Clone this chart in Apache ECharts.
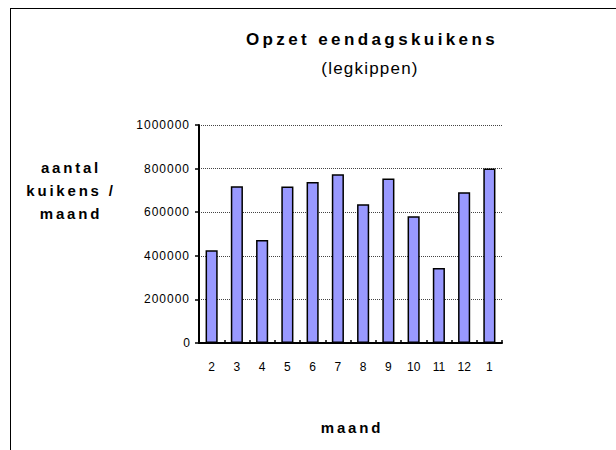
<!DOCTYPE html>
<html><head><meta charset="utf-8">
<script src="https://cdn.jsdelivr.net/npm/echarts@6/dist/echarts.min.js"></script>
<style>html,body{margin:0;padding:0;background:#fff}#c{width:616px;height:450px}</style>
</head><body><div id="c"></div>
<script>
const titleText = 'Opzet eendagskuikens';
const subtitleText = '(legkippen)';
const yTitleText = 'aantal\nkuikens /\nmaand';
const xTitleText = 'maand';
const months = ['2','3','4','5','6','7','8','9','10','11','12','1'];
const chicks = [425000, 719000, 472000, 718000, 738000, 774000, 636000, 755000, 581000, 344000, 691000, 800000];
const yMin = 0, yMax = 1000000, yStep = 200000;

const FONT = '"Liberation Sans", Arial, sans-serif';
const chart = echarts.init(document.getElementById('c'), null, {renderer: 'svg'});
chart.setOption({
  animation: false,
  backgroundColor: '#fff',
  grid: {left: 199, right: 114, top: 125, bottom: 107},
  xAxis: {
    type: 'category', data: months,
    axisLine: {lineStyle: {color: '#000', width: 2}},
    axisTick: {show: true, inside: true, length: 3, lineStyle: {color: '#000', width: 1.5}},
    axisLabel: {color: '#000', fontSize: 12, fontFamily: FONT, margin: 18},
    splitLine: {show: false}
  },
  yAxis: {
    type: 'value', min: yMin, max: yMax, interval: yStep,
    axisLine: {show: true, lineStyle: {color: '#000', width: 2}},
    axisTick: {show: true, length: 4, lineStyle: {color: '#000', width: 1.5}},
    axisLabel: {color: '#000', fontSize: 12, fontFamily: FONT, margin: 9, formatter: v => String(v)},
    splitLine: {lineStyle: {color: '#444', type: 'dotted', width: 1}}
  },
  series: [{
    type: 'bar', data: chicks, barWidth: '48%',
    itemStyle: {color: '#9999ff', borderColor: '#000', borderWidth: 1.5}
  }],
  graphic: [
    {type: 'line', shape: {x1: 10, y1: 8.5, x2: 616, y2: 8.5}, style: {stroke: '#000', lineWidth: 1}},
    {type: 'line', shape: {x1: 10.5, y1: 8, x2: 10.5, y2: 450}, style: {stroke: '#000', lineWidth: 1}},
    {type: 'text', x: 372, y: 39, style: {text: titleText, font: 'bold 17px ' + FONT, fill: '#000', textAlign: 'center', align: 'center', textVerticalAlign: 'middle', verticalAlign: 'middle'}},
    {type: 'text', x: 370, y: 68, style: {text: subtitleText, font: '17px ' + FONT, fill: '#000', textAlign: 'center', align: 'center', textVerticalAlign: 'middle', verticalAlign: 'middle'}},
    {type: 'text', x: 71, y: 190, style: {text: yTitleText, font: 'bold 15px ' + FONT, lineHeight: 23, fill: '#000', textAlign: 'center', align: 'center', textVerticalAlign: 'middle', verticalAlign: 'middle'}},
    {type: 'text', x: 352, y: 427, style: {text: xTitleText, font: 'bold 15px ' + FONT, fill: '#000', textAlign: 'center', align: 'center', textVerticalAlign: 'middle', verticalAlign: 'middle'}}
  ]
});

function applySpacing() {
  document.querySelectorAll('#c svg text').forEach(t => {
    const cs = getComputedStyle(t);
    const w = parseInt(cs.fontWeight, 10);
    const txt = t.textContent;
    if (w >= 600) {
      t.style.letterSpacing = parseFloat(cs.fontSize) >= 17 ? '3.4px' : '2.8px';
    } else if (txt === subtitleText) {
      t.style.letterSpacing = '1.2px';
    } else if (/^\d{6,}$/.test(txt)) {
      t.style.letterSpacing = '1px';
    }
  });
}
applySpacing();
chart.on('finished', applySpacing);
setTimeout(applySpacing, 0);
</script>
</body></html>
